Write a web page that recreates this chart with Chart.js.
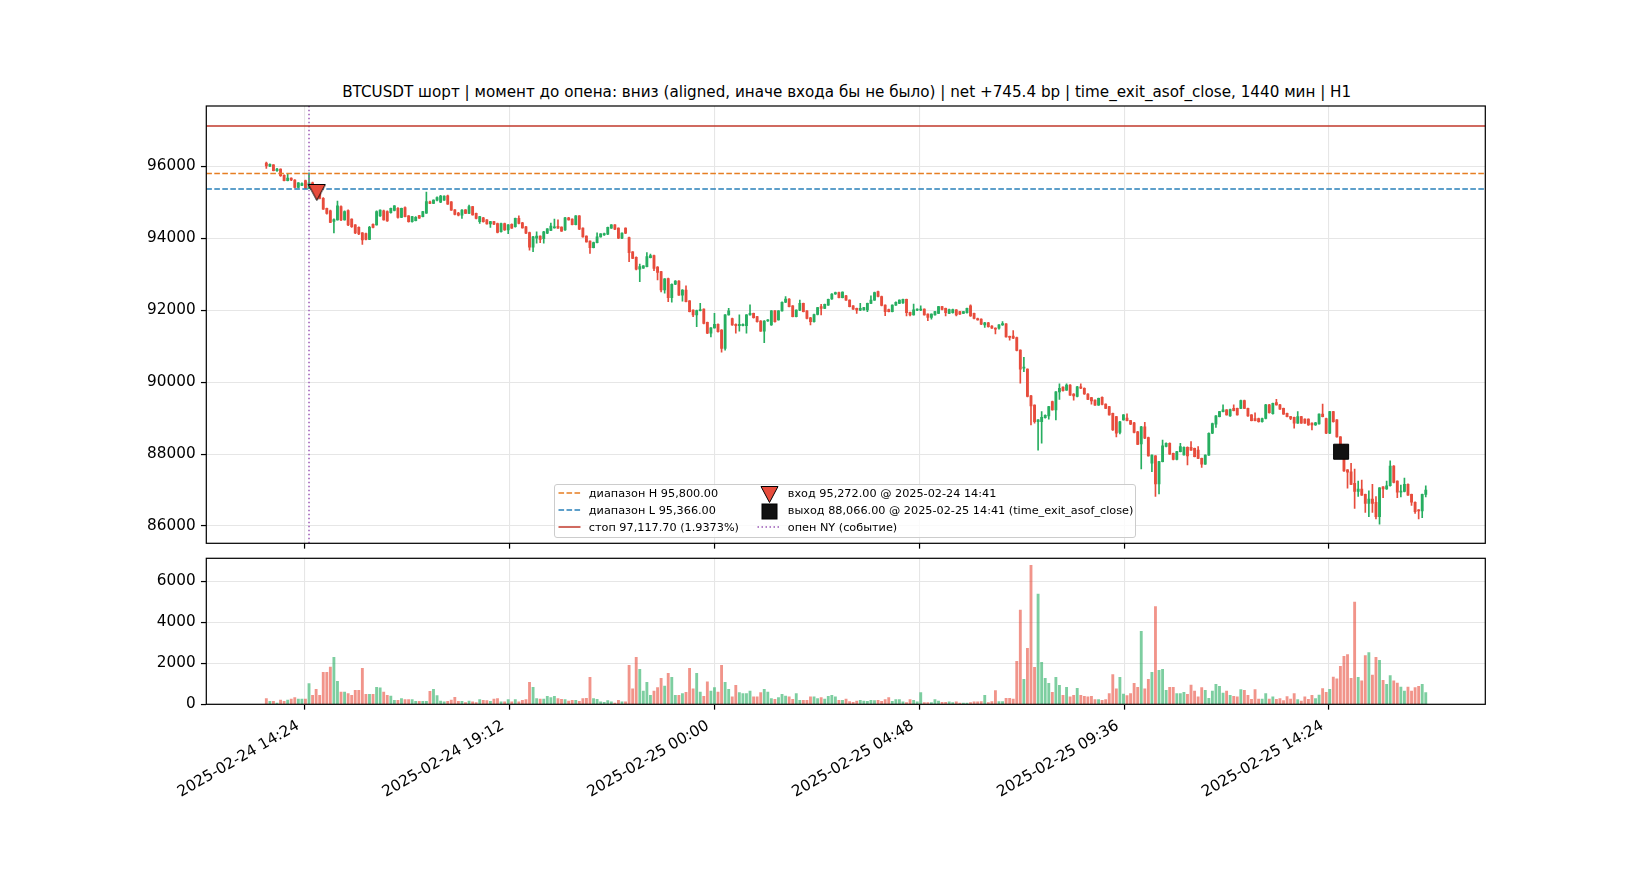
<!DOCTYPE html>
<html>
<head>
<meta charset="utf-8">
<script src="https://cdn.jsdelivr.net/npm/chart.js@4.4.1/dist/chart.umd.min.js"></script>
<style>
  html, body { margin: 0; padding: 0; background: #fff; }
  body { width: 1650px; height: 880px; position: relative; overflow: hidden; font-family: "DejaVu Sans", sans-serif; }
  #title { position: absolute; left: 846.7px; top: 82.7px; transform: translateX(-50%); white-space: nowrap; font-size: 15.18px; line-height: 18px; color: #000; }
  #priceCanvas { position: absolute; left: 0; top: 0; }
  #volCanvas { position: absolute; left: 0; top: 551px; }
  #legend { position: absolute; left: 553.8px; top: 484px; width: 580px; height: 52px; border: 1px solid #cccccc; border-radius: 3px; background: rgba(255,255,255,0.8); }
  .lg { position: absolute; font-size: 11.25px; line-height: 13px; white-space: nowrap; color: #000; }
  .hd { position: absolute; }
</style>
</head>
<body>
<div id="title">BTCUSDT шорт | момент до опена: вниз (aligned, иначе входа бы не было) | net +745.4 bp | time_exit_asof_close, 1440 мин | H1</div>
<canvas id="priceCanvas" width="1650" height="551"></canvas>
<canvas id="volCanvas" width="1650" height="329"></canvas>
<div id="legend">
  <svg class="hd" style="left:3px;top:3px" width="23" height="10"><line x1="0.5" y1="5" x2="22.5" y2="5" stroke="#e67e22" stroke-width="1.5" stroke-dasharray="5.6 2.4"/></svg>
  <div class="lg" style="left:34px;top:2px">диапазон H 95,800.00</div>
  <svg class="hd" style="left:3px;top:20px" width="23" height="10"><line x1="0.5" y1="5" x2="22.5" y2="5" stroke="#2980b9" stroke-width="1.5" stroke-dasharray="5.6 2.4"/></svg>
  <div class="lg" style="left:34px;top:19px">диапазон L 95,366.00</div>
  <svg class="hd" style="left:3px;top:37px" width="23" height="10"><line x1="0.5" y1="5" x2="22.5" y2="5" stroke="#c0392b" stroke-width="1.5"/></svg>
  <div class="lg" style="left:34px;top:36px">стоп 97,117.70 (1.9373%)</div>
  <svg class="hd" style="left:205px;top:0px" width="19" height="19"><polygon points="1,1.5 18,1.5 9.5,17.5" fill="#e74c3c" stroke="#000" stroke-width="1"/></svg>
  <div class="lg" style="left:233px;top:2px">вход 95,272.00 @ 2025-02-24 14:41</div>
  <svg class="hd" style="left:206px;top:18px" width="17" height="17"><rect x="1" y="1" width="15" height="15" fill="#111" stroke="#000" stroke-width="1"/></svg>
  <div class="lg" style="left:233px;top:19px">выход 88,066.00 @ 2025-02-25 14:41 (time_exit_asof_close)</div>
  <svg class="hd" style="left:202px;top:37px" width="23" height="10"><line x1="0.5" y1="5" x2="22.5" y2="5" stroke="#9b59b6" stroke-width="1.5" stroke-dasharray="1.5 2.5"/></svg>
  <div class="lg" style="left:233px;top:36px">опен NY (событие)</div>
</div>
<script>
// ---- data (x values are minutes since 2025-02-24 00:00 UTC) ----
const firstBarMinute = 810;   // 2025-02-24 13:30
const barMinutes = 5;
// [open, high, low, close]
const ohlc = [
[96090,96120,95940,96010],[96000,96070,95990,96055],[96040,96050,95870,95880],[95880,95940,95860,95920],[95920,95930,95720,95740],
[95750,95760,95590,95600],[95600,95790,95590,95670],[95670,95680,95600,95620],[95620,95630,95400,95410],[95410,95550,95400,95540],
[95470,95540,95460,95520],[95600,95620,95380,95390],[95390,95820,95380,95540],[95540,95560,95400,95420],[95420,95440,95270,95300],
[95300,95320,95090,95110],[95110,95130,94800,94810],[94830,94840,94670,94690],[94760,94780,94430,94440],[94470,94540,94150,94520],
[94510,95030,94500,94900],[94880,94900,94490,94510],[94510,94760,94500,94740],[94770,94790,94350,94370],[94530,94540,94300,94320],
[94370,94380,94130,94150],[94300,94320,94100,94120],[94150,94160,93830,93950],[94130,94140,93950,93970],[93970,94330,93960,94300],
[94390,94400,94290,94300],[94370,94760,94360,94740],[94620,94790,94610,94780],[94760,94780,94500,94510],[94740,94760,94470,94480],
[94710,94840,94700,94830],[94770,94910,94760,94900],[94830,94850,94560,94580],[94580,94840,94570,94830],[94850,94870,94590,94600],
[94620,94630,94450,94460],[94460,94610,94450,94600],[94490,94600,94480,94580],[94630,94640,94550,94560],[94600,94750,94590,94740],
[94700,95280,94690,95020],[95010,95030,94960,94970],[94970,95070,94960,95060],[95060,95150,95040,95130],[95000,95190,94990,95175],
[95060,95180,95050,95170],[95180,95200,94940,94950],[95010,95020,94770,94780],[94790,94800,94650,94660],[94700,94720,94620,94640],
[94640,94800,94550,94780],[94790,94800,94680,94690],[94690,94920,94680,94880],[94880,94890,94640,94650],[94690,94700,94540,94550],
[94460,94610,94410,94600],[94570,94580,94450,94460],[94510,94520,94390,94400],[94400,94470,94300,94460],[94460,94470,94380,94390],
[94410,94420,94150,94160],[94180,94420,94170,94410],[94410,94420,94220,94230],[94230,94380,94130,94370],[94390,94400,94270,94280],
[94320,94560,94310,94550],[94550,94620,94400,94410],[94430,94440,94280,94290],[94320,94330,94130,94140],[94160,94170,93670,93750],
[93750,94050,93630,94040],[94000,94180,93860,94060],[94060,94070,93880,93970],[93990,94190,93860,94180],[94140,94270,94130,94260],
[94220,94420,94210,94340],[94290,94530,94280,94320],[94330,94510,94270,94280],[94310,94320,94190,94200],[94230,94580,94220,94570],
[94570,94580,94500,94510],[94530,94540,94370,94380],[94380,94630,94370,94620],[94620,94630,94240,94250],[94280,94290,94030,94040],
[94060,94070,93890,93900],[93920,93930,93580,93740],[93740,93890,93730,93880],[93880,94150,93870,94040],[94040,94130,94030,94120],
[94090,94140,94080,94130],[94110,94310,94100,94300],[94280,94380,94270,94370],[94370,94380,94240,94250],[94280,94290,93990,94000],
[94000,94150,93990,94140],[94280,94290,94130,94140],[94020,94030,93350,93600],[93620,93630,93430,93440],[93470,93480,93120,93140],
[93140,93280,92790,93210],[93170,93240,93160,93230],[93210,93600,93200,93490],[93460,93560,93450,93520],[93520,93530,93100,93160],
[93200,93210,92840,93050],[93070,93080,92510,92560],[92560,92880,92470,92870],[92880,92890,92240,92350],[92350,92730,92220,92720],
[92720,92820,92710,92810],[92810,92820,92410,92420],[92420,92570,92250,92560],[92560,92680,92230,92240],[92260,92270,91950,91960],
[92000,92010,91820,91870],[91870,92000,91540,91990],[91990,92190,91980,92020],[92030,92040,91620,91630],[91660,91670,91350,91360],
[91360,91520,91260,91510],[91510,91910,91500,91610],[91610,91620,91390,91400],[91450,91460,90830,90940],[90940,91880,90890,91870],
[91870,92050,91860,91980],[91770,91780,91580,91590],[91610,91620,91360,91570],[91570,91870,91420,91610],[91570,91620,91560,91610],
[91570,91880,91360,91870],[91870,92150,91860,91910],[91910,91920,91780,91790],[91820,91830,91670,91680],[91700,91710,91410,91420],
[91420,91710,91100,91700],[91700,91740,91690,91730],[91590,91990,91580,91980],[91980,91990,91670,91680],[91730,91990,91720,91980],
[91980,92230,91970,92220],[92220,92380,92210,92310],[92310,92320,92090,92100],[92120,92130,91810,91820],[91820,92010,91810,92000],
[92000,92280,91990,92190],[92190,92200,91950,91960],[91980,91990,91760,91770],[91790,91800,91590,91680],[91680,91890,91670,91880],
[91880,92080,91870,92070],[92100,92160,91870,92050],[92050,92170,92040,92160],[92140,92310,92130,92300],[92310,92460,92300,92450],
[92450,92500,92440,92490],[92490,92500,92340,92350],[92350,92510,92340,92500],[92400,92410,92270,92280],[92280,92290,92090,92100],
[92120,92130,92020,92030],[92050,92060,91910,92000],[92000,92190,91990,92050],[92010,92080,92000,92070],[92010,92200,91960,92190],
[92190,92400,92180,92280],[92280,92500,92270,92490],[92520,92530,92370,92380],[92380,92390,92120,92130],[92140,92150,91850,91960],
[92020,92030,91950,91960],[91960,92150,91950,92140],[92140,92230,92130,92220],[92190,92290,92180,92280],[92200,92310,92190,92300],
[92300,92310,91840,91930],[91940,91950,91840,91870],[91870,92170,91860,92010],[92000,92040,91990,92030],[92000,92120,91990,92030],
[92030,92040,91860,91870],[91890,91900,91710,91800],[91800,91900,91750,91890],[91870,91970,91860,91960],[91910,92110,91900,92100],
[92100,92110,92010,92020],[92050,92060,91840,91930],[91910,92030,91900,92020],[91930,92030,91920,92020],[92010,92020,91840,91870],
[91960,91970,91880,91890],[91910,91970,91900,91960],[91930,92060,91920,92050],[92120,92150,91830,91840],[91910,91920,91760,91770],
[91770,91780,91720,91730],[91750,91760,91600,91610],[91590,91660,91520,91650],[91650,91660,91530,91540],[91560,91570,91490,91500],
[91500,91510,91340,91470],[91500,91600,91470,91590],[91590,91680,91580,91630],[91620,91630,91250,91260],[91270,91280,91170,91240],
[91280,91430,91210,91220],[91240,91250,90870,90880],[90890,90900,89970,90360],[90390,90690,90290,90420],[90360,90370,89590,89600],
[89620,89630,88810,89340],[89360,89370,88860,88900],[88900,88960,88110,88950],[88900,89180,88300,89020],[89010,89090,89000,89080],
[89060,89330,88970,89320],[89460,89470,89220,89230],[89230,89740,88950,89730],[89730,89950,89520,89830],[89860,89870,89750,89760],
[89780,89950,89770,89920],[89920,89930,89630,89640],[89670,89680,89500,89620],[89600,89880,89590,89870],[89870,89950,89820,89830],
[89830,89840,89660,89670],[89670,89680,89510,89520],[89570,89580,89390,89480],[89500,89510,89350,89360],[89360,89560,89350,89550],
[89580,89590,89370,89380],[89390,89400,89260,89270],[89320,89330,89080,89090],[89130,89140,88660,88670],[89040,89050,88480,88580],
[88600,88910,88560,88900],[88950,89100,88940,89090],[89000,89120,88920,88930],[88930,88940,88820,88830],[88870,88880,88590,88600],
[88620,88630,88260,88270],[88280,88770,87590,88760],[88760,88880,88430,88440],[88460,88470,87940,87950],[87750,87980,87510,87970],
[87950,87960,86820,87170],[87170,87800,86890,87790],[87790,88390,87780,88230],[88210,88310,88200,88300],[88300,88310,87990,88000],
[88020,88030,87840,87850],[87850,88080,87840,88070],[88070,88300,88060,88210],[87980,88200,87970,88190],[88190,88200,87700,87950],
[88190,88350,88100,88110],[88160,88170,87920,87930],[88110,88210,87870,87880],[87880,87890,87630,87720],[87720,87980,87710,87970],
[87970,88590,87960,88580],[88580,88860,88570,88850],[88830,89070,88740,89060],[89040,89190,89030,89180],[89180,89370,89170,89230],
[89230,89240,89080,89090],[89060,89250,89050,89240],[89270,89370,89200,89210],[89270,89280,89080,89090],[89270,89500,89260,89490],
[89490,89500,89260,89270],[89270,89280,89050,89060],[89090,89100,88920,88930],[88990,89150,88920,88930],[88990,89000,88890,88900],
[88900,89000,88890,88990],[88990,89380,88980,89370],[89370,89380,89140,89150],[89120,89420,89110,89410],[89430,89520,89360,89370],
[89370,89380,89240,89250],[89270,89280,89100,89110],[89130,89140,89030,89040],[89040,89050,88960,88990],[89020,89030,88720,88860],
[88860,89180,88850,89040],[89040,89050,88850,88860],[88970,88980,88850,88860],[88970,88980,88800,88810],[88860,88870,88670,88810],
[88810,88880,88800,88870],[88840,89120,88830,89110],[89110,89390,89030,89040],[88990,89000,88570,88580],[88580,89190,88570,89180],
[89180,89190,88890,88900],[88950,88960,88470,88480],[88480,88490,88250,88260],[88260,88270,87520,87530],[87560,87570,87050,87500],
[87510,87740,87150,87160],[87190,87580,86490,86960],[86960,87250,86820,87030],[87030,87280,86850,86860],[86880,86890,86380,86630],
[86630,86980,86260,86750],[86750,87160,86380,86630],[86660,86820,86200,86260],[86260,87070,86050,87060],[87090,87100,86790,87030],
[87030,87250,87020,87120],[87120,87810,87110,87670],[87670,87680,87200,87210],[87250,87260,86790,86940],[86940,87140,86810,86970],
[86960,87330,86950,87160],[87160,87170,86850,86860],[86880,86890,86570,86660],[86660,86670,86350,86400],[86450,86460,86200,86420],
[86420,86890,86230,86880],[86880,87120,86810,87000]
];
const volumes = [
280,150,150,60,200,150,200,250,330,250,
250,250,1010,440,730,440,1560,1560,1820,2290,
1120,600,600,520,440,680,680,1756,490,490,
490,830,800,600,440,400,195,195,275,230,
230,230,150,150,150,150,635,730,420,160,
115,150,210,340,150,150,85,160,115,85,
230,195,180,146,260,275,115,115,230,115,
230,115,195,230,1070,830,275,260,260,390,
325,390,275,244,230,160,195,195,146,275,
290,1320,275,244,115,100,180,115,65,195,
115,115,1900,750,2290,1700,650,1070,440,650,
810,1270,890,1510,1320,440,440,520,585,1750,
750,1510,600,390,1090,650,810,600,1900,1070,
730,360,930,570,520,520,650,360,360,570,
730,600,275,244,325,490,400,360,244,520,
195,195,195,360,360,275,325,260,390,440,
360,195,195,260,130,100,160,195,160,146,
195,180,195,146,230,325,146,230,230,115,
85,230,195,115,570,85,85,85,230,160,
100,100,115,85,115,65,65,65,85,115,
115,130,440,85,130,670,130,130,290,290,
260,2100,4590,1220,2730,6780,1800,5370,2050,1270,
1020,585,1320,930,440,830,360,440,780,440,
390,360,390,230,230,195,230,520,1450,750,
1320,500,420,520,1020,830,3560,750,1220,1560,
4760,1660,1700,680,830,830,520,520,585,490,
940,650,360,810,680,290,650,975,880,550,
650,440,
390,360,715,680,440,244,715,260,260,520,
260,360,244,275,180,375,260,520,230,160,
360,244,440,275,455,765,585,730,1330,1240,
1850,2340,2420,1270,4980,1320,1140,2370,2520,1430,
2290,2150,1170,975,1400,1140,1040,845,650,845,
650,810,880,975,570
];
const xTickValues = [864, 1152, 1440, 1728, 2016, 2304];
const xTickLabels = ['2025-02-24 14:24', '2025-02-24 19:12', '2025-02-25 00:00', '2025-02-25 04:48', '2025-02-25 09:36', '2025-02-25 14:24'];
const priceTicks = [86000, 88000, 90000, 92000, 94000, 96000];
const volumeTicks = [0, 2000, 4000, 6000];
const rangeHigh = 95800.00;
const rangeLow = 95366.00;
const stopPrice = 97117.70;
const entryPoint = [{ x: 881, y: 95272.00 }];   // 2025-02-24 14:41
const exitPoint = [{ x: 2321, y: 88066.00 }];   // 2025-02-25 14:41
const nyOpenMinute = 870;                       // 2025-02-24 14:30

// ---- axis ranges ----
const X_MIN = 725.6, X_MAX = 2523.7;
const P_MIN = 85520, P_MAX = 97676;
const V_MIN = 0, V_MAX = 7120;

// ---- styles ----
const RED = '#e74c3c', GREEN = '#27ae60';
const RED_V = 'rgba(231,76,60,0.6)', GREEN_V = 'rgba(39,174,96,0.6)';
const ORANGE = '#e67e22', BLUE = '#2980b9', STOP = '#c0392b', PURPLE = '#9b59b6';
const GRID = '#e6e6e6';
const FONT = { family: 'DejaVu Sans', size: 15.28 };

const times = ohlc.map((_, i) => firstBarMinute + barMinutes * i);
const isUp = ohlc.map(d => d[3] >= d[0]);

const frame = {
  id: 'frame',
  afterDraw(c) {
    const { ctx, chartArea: a } = c;
    ctx.save();
    ctx.strokeStyle = '#000';
    ctx.lineWidth = 1.22;
    ctx.strokeRect(a.left, a.top, a.right - a.left, a.bottom - a.top);
    ctx.restore();
  }
};

function triangleMarker() {
  const c = document.createElement('canvas');
  c.width = 19; c.height = 19;
  const g = c.getContext('2d');
  g.beginPath();
  g.moveTo(1, 1.5); g.lineTo(18, 1.5); g.lineTo(9.5, 17.5); g.closePath();
  g.fillStyle = RED; g.fill();
  g.lineWidth = 1; g.strokeStyle = '#000'; g.stroke();
  return c;
}

const xAxisBase = (showLabels, height) => ({
  type: 'linear', min: X_MIN, max: X_MAX, offset: false,
  afterBuildTicks: s => { s.ticks = xTickValues.map(v => ({ value: v })); },
  afterFit: s => { s.height = height; s.paddingLeft = 0; s.paddingRight = 0; },
  border: { display: false },
  grid: { offset: false, color: GRID, lineWidth: 1.1, tickColor: '#000', tickLength: 5.35, tickWidth: 1.22 },
  ticks: {
    display: showLabels, autoSkip: false, maxRotation: 30, minRotation: 30,
    labelOffset: -6.6, padding: 7.2, color: '#000', font: FONT,
    callback: v => xTickLabels[xTickValues.indexOf(v)]
  }
});

const yAxisBase = (min, max, tickVals) => ({
  type: 'linear', min, max,
  afterBuildTicks: s => { s.ticks = tickVals.map(v => ({ value: v })); },
  afterFit: s => { s.width = 206.3; s.paddingTop = 0; s.paddingBottom = 0; },
  border: { display: false },
  grid: { color: GRID, lineWidth: 1.1, tickColor: '#000', tickLength: 5.35, tickWidth: 1.22 },
  ticks: { padding: 5.35, color: '#000', font: FONT, callback: v => String(v) }
});

new Chart(document.getElementById('priceCanvas'), {
  type: 'bar',
  data: {
    datasets: [
      { type: 'line', label: 'entry', data: entryPoint, showLine: false,
        pointStyle: triangleMarker(), pointRadius: 8, order: 0 },
      { type: 'line', label: 'exit', data: exitPoint, showLine: false,
        pointStyle: 'rect', pointRadius: 10.6, pointBackgroundColor: '#111111',
        pointBorderColor: '#000', pointBorderWidth: 1, order: 0 },
      { type: 'line', label: 'range H', data: [{ x: X_MIN, y: rangeHigh }, { x: X_MAX, y: rangeHigh }],
        borderColor: ORANGE, borderWidth: 1.5, borderDash: [5.6, 2.4], pointRadius: 0, order: 1 },
      { type: 'line', label: 'range L', data: [{ x: X_MIN, y: rangeLow }, { x: X_MAX, y: rangeLow }],
        borderColor: BLUE, borderWidth: 1.5, borderDash: [5.6, 2.4], pointRadius: 0, order: 1 },
      { type: 'line', label: 'stop', data: [{ x: X_MIN, y: stopPrice }, { x: X_MAX, y: stopPrice }],
        borderColor: STOP, borderWidth: 1.5, pointRadius: 0, order: 1 },
      { type: 'line', label: 'NY open', data: [{ x: nyOpenMinute, y: P_MIN }, { x: nyOpenMinute, y: P_MAX }],
        borderColor: PURPLE, borderWidth: 1.5, borderDash: [1.5, 2.5], pointRadius: 0, order: 1 },
      { label: 'bodies', data: ohlc.map((d, i) => ({ x: times[i], y: [d[0], d[3]] })),
        backgroundColor: isUp.map(u => u ? GREEN : RED), barThickness: 2.2, minBarLength: 1,
        grouped: false, order: 2 },
      { label: 'wicks', data: ohlc.map((d, i) => ({ x: times[i], y: [d[2], d[1]] })),
        backgroundColor: isUp.map(u => u ? GREEN : RED), barThickness: 1, grouped: false, order: 3 }
    ]
  },
  options: {
    responsive: false, animation: false,
    layout: { autoPadding: false, padding: { top: 106, right: 164.7, left: 0, bottom: 0 } },
    plugins: { legend: { display: false }, tooltip: { enabled: false }, title: { display: false } },
    scales: {
      x: xAxisBase(false, 7.7),
      y: yAxisBase(P_MIN, P_MAX, priceTicks)
    }
  },
  plugins: [frame]
});

new Chart(document.getElementById('volCanvas'), {
  type: 'bar',
  data: {
    datasets: [
      { label: 'volume', data: volumes.map((v, i) => ({ x: times[i], y: v })),
        backgroundColor: isUp.map(u => u ? GREEN_V : RED_V), barThickness: 2.2, grouped: false }
    ]
  },
  options: {
    responsive: false, animation: false,
    layout: { autoPadding: false, padding: { top: 7.3, right: 164.7, left: 0, bottom: 0 } },
    plugins: { legend: { display: false }, tooltip: { enabled: false } },
    scales: {
      x: xAxisBase(true, 175.7),
      y: yAxisBase(V_MIN, V_MAX, volumeTicks)
    }
  },
  plugins: [frame]
});
</script>
</body>
</html>
